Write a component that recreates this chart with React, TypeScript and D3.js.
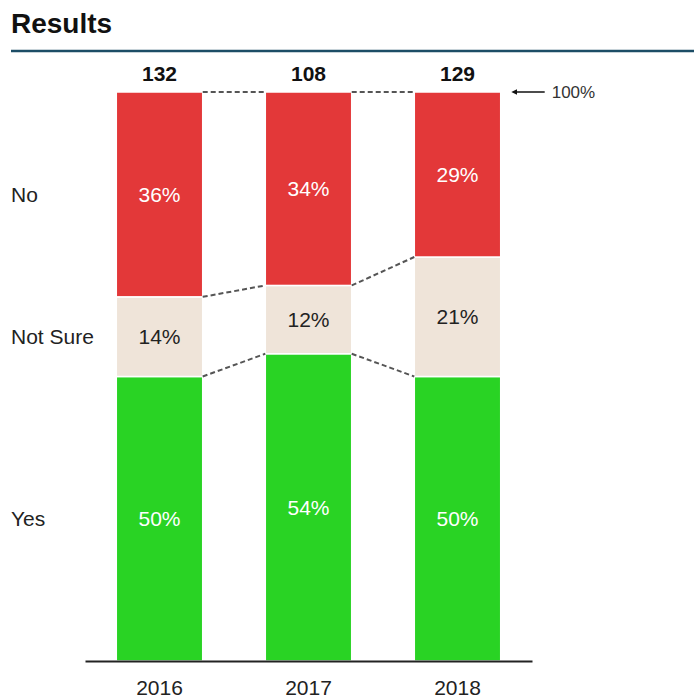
import React, { useEffect, useRef } from 'react';
import * as d3 from 'd3';

// Survey results by year (percent of respondents)
const years = ['2016', '2017', '2018'];
const responses = ['Yes', 'Not Sure', 'No'];
const yesPct = [50, 54, 50];
const notSurePct = [14, 12, 21];
const noPct = [36, 34, 29];
const totals = [132, 108, 129];

const colors: Record<string, string> = {
  'Yes': '#29d324',
  'Not Sure': '#efe4d9',
  'No': '#e33839',
};
const labelColors: Record<string, string> = {
  'Yes': '#ffffff',
  'Not Sure': '#222222',
  'No': '#ffffff',
};

const FONT = '"Liberation Sans", Arial, sans-serif';

const App = () => {
  const ref = useRef<SVGSVGElement>(null);

  useEffect(() => {
    const width = 694;
    const height = 700;
    const svg = d3.select(ref.current);
    svg.selectAll('*').remove();
    svg.attr('width', width).attr('height', height).style('font-family', FONT);

    const rows = years.map((year, i) => ({
      year,
      'Yes': yesPct[i],
      'Not Sure': notSurePct[i],
      'No': noPct[i],
      total: totals[i],
    }));

    const series = d3.stack<any>().keys(responses)(rows);

    const x = d3.scaleBand()
      .domain(years)
      .range([85, 532])
      .paddingInner(0.42)
      .paddingOuter(0.21);
    const y = d3.scaleLinear().domain([0, 100]).range([661, 92]);

    // title
    svg.append('text')
      .attr('x', 11)
      .attr('y', 33)
      .attr('font-size', 28)
      .attr('font-weight', 'bold')
      .attr('fill', '#111')
      .text('Results');
    svg.append('line')
      .attr('x1', 11).attr('x2', width)
      .attr('y1', 51).attr('y2', 51)
      .attr('stroke', '#1c4d66')
      .attr('stroke-width', 2.5);

    // bars
    const g = svg.append('g');
    series.forEach(s => {
      const key = s.key;
      g.selectAll(null)
        .data(s)
        .join('rect')
        .attr('x', d => x(d.data.year)!)
        .attr('width', x.bandwidth())
        .attr('y', d => y(d[1]))
        .attr('height', d => y(d[0]) - y(d[1]))
        .attr('fill', colors[key])
        .attr('stroke', '#fff')
        .attr('stroke-width', 1.5);

      g.selectAll(null)
        .data(s)
        .join('text')
        .attr('x', d => x(d.data.year)! + x.bandwidth() / 2)
        .attr('y', d => (y(d[0]) + y(d[1])) / 2)
        .attr('dy', '0.35em')
        .attr('text-anchor', 'middle')
        .attr('font-size', 21)
        .attr('fill', labelColors[key])
        .text(d => `${d[1] - d[0]}%`);
    });

    // dashed connectors between bars at each boundary
    const boundaries = [...series.map(s => s.map(d => d[0])).slice(1), series[series.length - 1].map(d => d[1])];
    boundaries.forEach(vals => {
      for (let i = 0; i < years.length - 1; i++) {
        g.append('line')
          .attr('x1', x(years[i])! + x.bandwidth())
          .attr('x2', x(years[i + 1])!)
          .attr('y1', y(vals[i]))
          .attr('y2', y(vals[i + 1]))
          .attr('stroke', '#555')
          .attr('stroke-width', 2)
          .attr('stroke-dasharray', '5,3');
      }
    });

    // totals on top
    g.selectAll(null)
      .data(rows)
      .join('text')
      .attr('x', d => x(d.year)! + x.bandwidth() / 2)
      .attr('y', y(100) - 11)
      .attr('text-anchor', 'middle')
      .attr('font-size', 21)
      .attr('font-weight', 'bold')
      .attr('fill', '#111')
      .text(d => d.total);

    // row labels from the first bar
    series.forEach(s => {
      const d = s[0];
      svg.append('text')
        .attr('x', 11)
        .attr('y', (y(d[0]) + y(d[1])) / 2)
        .attr('dy', '0.35em')
        .attr('font-size', 21)
        .attr('fill', '#222')
        .text(s.key);
    });

    // x axis
    const axis = svg.append('g')
      .attr('transform', `translate(0,${y(0)})`)
      .call(d3.axisBottom(x).tickSize(0).tickPadding(19).tickSizeOuter(0));
    axis.select('.domain').attr('stroke', '#222').attr('stroke-width', 2);
    axis.selectAll('text')
      .attr('font-size', 21)
      .attr('font-family', FONT)
      .attr('fill', '#222');

    // 100% marker
    const ax = x(years[years.length - 1])! + x.bandwidth() + 12;
    svg.append('defs').append('marker')
      .attr('id', 'arrowhead')
      .attr('viewBox', '0 0 10 10')
      .attr('refX', 1).attr('refY', 5)
      .attr('markerWidth', 4).attr('markerHeight', 4)
      .attr('orient', 'auto-start-reverse')
      .append('path')
      .attr('d', 'M0,0 L10,5 L0,10 z')
      .attr('fill', '#111');
    svg.append('line')
      .attr('x1', ax + 32).attr('x2', ax + 4)
      .attr('y1', y(100)).attr('y2', y(100))
      .attr('stroke', '#111')
      .attr('stroke-width', 1.5)
      .attr('marker-end', 'url(#arrowhead)');
    svg.append('text')
      .attr('x', ax + 39)
      .attr('y', y(100))
      .attr('dy', '0.35em')
      .attr('font-size', 17)
      .attr('fill', '#333')
      .text('100%');
  }, []);

  return (
    <div style={{ position: 'absolute', left: 0, top: 0 }}>
      <svg ref={ref} />
    </div>
  );
};

export default App;
